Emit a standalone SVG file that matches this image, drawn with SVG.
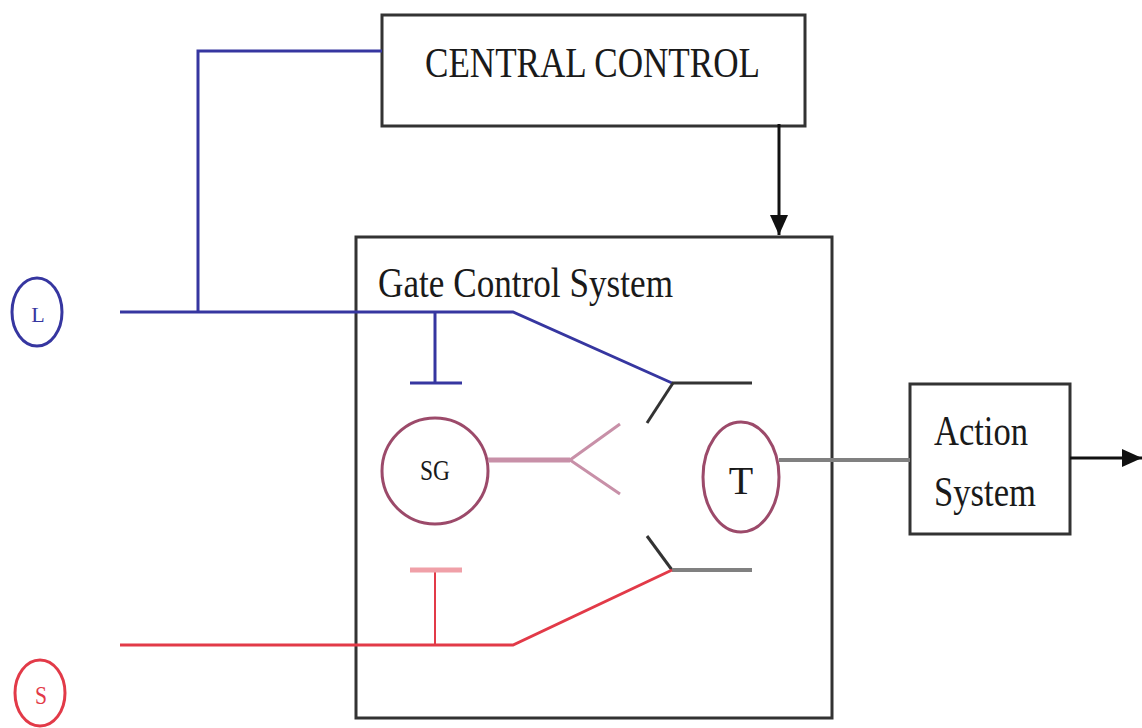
<svg xmlns="http://www.w3.org/2000/svg" width="1142" height="728" viewBox="0 0 1142 728">
<defs>
<style>
.t{font-family:"Liberation Serif","Times New Roman",serif;fill:#1a1a1a}
.box{fill:#fff;stroke:#333;stroke-width:3}
.blue{stroke:#3636a0;stroke-width:3;fill:none}
.red{stroke:#e23a48;stroke-width:3;fill:none}
.dark{stroke:#333;stroke-width:3;fill:none}
.gray{stroke:#808080;stroke-width:4;fill:none}
</style>
<marker id="ah2" markerWidth="20" markerHeight="18" refX="20" refY="9" orient="auto" markerUnits="userSpaceOnUse" viewBox="0 0 20 18">
<path d="M0,0 L20,9 L0,18 z" fill="#111"/>
</marker>
</defs>
<rect width="1142" height="728" fill="#fff"/>

<g id="gate-control">
<rect class="box" x="356" y="237" width="476" height="481"/>
<text class="t" x="378" y="297" font-size="42" textLength="295" lengthAdjust="spacingAndGlyphs">Gate Control System</text>
</g>

<g id="central-control">
<rect class="box" x="382" y="15" width="423" height="111"/>
<text class="t" x="425" y="77" font-size="43" textLength="335" lengthAdjust="spacingAndGlyphs">CENTRAL CONTROL</text>
</g>

<g id="L">
<ellipse cx="37" cy="312" rx="25" ry="34" fill="none" stroke="#3636a0" stroke-width="3"/>
<text class="t" x="38" y="322" font-size="22" text-anchor="middle" style="fill:#3636a0">L</text>
</g>

<g id="S">
<ellipse cx="40" cy="693" rx="25" ry="33" fill="none" stroke="#e23a48" stroke-width="3"/>
<text class="t" x="41" y="704" font-size="26" text-anchor="middle" textLength="12" lengthAdjust="spacingAndGlyphs" style="fill:#e23a48">S</text>
</g>

<g id="SG">
<circle cx="435" cy="471" r="53" fill="none" stroke="#9c4a6a" stroke-width="3"/>
<text class="t" x="420" y="480" font-size="30" textLength="30" lengthAdjust="spacingAndGlyphs">SG</text>
</g>

<g id="T">
<ellipse cx="741" cy="477" rx="38" ry="55" fill="none" stroke="#9c4a6a" stroke-width="3"/>
<text class="t" x="741" y="494" font-size="40" text-anchor="middle">T</text>
</g>

<g id="action-system">
<rect class="box" x="910" y="384" width="160" height="150"/>
<text class="t" x="934" y="445" font-size="42" textLength="94" lengthAdjust="spacingAndGlyphs">Action</text>
<text class="t" x="934" y="506" font-size="42" textLength="102" lengthAdjust="spacingAndGlyphs">System</text>
</g>

<g id="connectors">
<line x1="779" y1="124" x2="779" y2="235" stroke="#111" stroke-width="3" marker-end="url(#ah2)"/>
<polyline class="blue" points="120,312 513,312 672,383"/>
<polyline class="blue" points="198,312 198,51 382,51"/>
<line class="blue" x1="435" y1="312" x2="435" y2="383"/>
<line class="blue" x1="410" y1="383" x2="462" y2="383" stroke-width="4"/>
<line class="dark" x1="672" y1="383" x2="752" y2="383"/>
<line class="dark" x1="673" y1="383" x2="647" y2="423"/>
<line x1="488" y1="460" x2="570" y2="460" stroke="#c890a8" stroke-width="5"/>
<polyline points="620,424 570,460 620,494" fill="none" stroke="#c890a8" stroke-width="3"/>
<line class="dark" x1="647" y1="536" x2="672" y2="570"/>
<line class="gray" x1="672" y1="570" x2="752" y2="570"/>
<polyline class="red" points="120,645 513,645 672,570"/>
<line x1="435" y1="645" x2="435" y2="570" stroke="#e23a48" stroke-width="2"/>
<line x1="410" y1="570" x2="462" y2="570" stroke="#f0a0a8" stroke-width="5"/>
<line class="gray" x1="779" y1="460" x2="910" y2="460" stroke-width="3"/>
<line x1="1070" y1="458" x2="1142" y2="458" stroke="#111" stroke-width="3" marker-end="url(#ah2)"/>
</g>
</svg>
